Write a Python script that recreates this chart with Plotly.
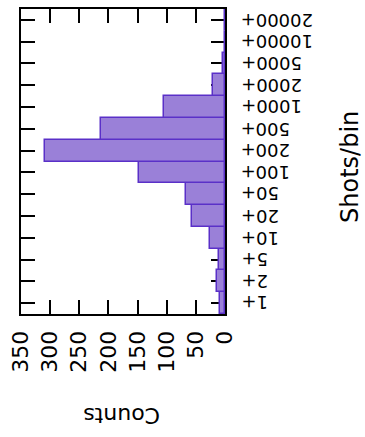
import plotly.graph_objects as go

categories = ["1+", "2+", "5+", "10+", "20+", "50+", "100+", "200+", "500+",
              "1000+", "2000+", "5000+", "10000+", "20000+"]
counts = [9, 13, 10, 26, 56, 67, 147, 308, 213, 104, 20, 4, 0, 0]
count_ticks = [0, 50, 100, 150, 200, 250, 300, 350]
x_title = "Shots/bin"
y_title = "Counts"

FONT = "DejaVu Sans"

fig = go.Figure()
fig.add_trace(go.Bar(
    y=categories, x=counts, orientation="h",
    marker=dict(color="#9a80d8", line=dict(color="#5a30c8", width=1.5)),
    width=1.0,
))

# category labels drawn upside down (as in the reference) next to the right axis
cat_labels = [
    dict(text=c, xref="paper", yref="y", x=(239 - 21) / 204, y=c,
         showarrow=False, textangle=180, xanchor="left", yanchor="middle",
         font=dict(family=FONT, size=18, color="black"))
    for c in categories
]

fig.update_layout(
    width=365, height=437,
    margin=dict(l=21, r=140, t=7, b=123),
    paper_bgcolor="white", plot_bgcolor="white",
    showlegend=False, bargap=0,
    xaxis=dict(
        range=[350, 0], tickvals=count_ticks, ticktext=[str(v) for v in count_ticks],
        tickangle=-90, ticks="inside", ticklen=14, tickwidth=1.5, tickcolor="black",
        showline=True, linewidth=2, linecolor="black", mirror="allticks",
        showgrid=False, zeroline=False, layer="below traces",
        tickfont=dict(family=FONT, size=22, color="black"),
        ticklabelstandoff=6,
    ),
    yaxis=dict(
        type="category", categoryorder="array", categoryarray=categories,
        range=[-0.5, 13.5], side="right", showticklabels=False,
        ticks="inside", ticklen=14, tickwidth=1.5, tickcolor="black",
        showline=True, linewidth=2, linecolor="black", mirror="allticks",
        showgrid=False, zeroline=False, layer="below traces",
    ),
    annotations=cat_labels + [
        dict(text=y_title, xref="paper", yref="paper", x=(122 - 21) / 204, y=-(416 - 314) / 307,
             showarrow=False, textangle=180, font=dict(family=FONT, size=22, color="black"),
             xanchor="center", yanchor="middle"),
        dict(text=x_title, xref="paper", yref="paper", x=(350 - 21) / 204, y=(314 - 166) / 307,
             showarrow=False, textangle=-90, font=dict(family=FONT, size=24, color="black"),
             xanchor="center", yanchor="middle"),
    ],
)

fig.write_html("out.html")
